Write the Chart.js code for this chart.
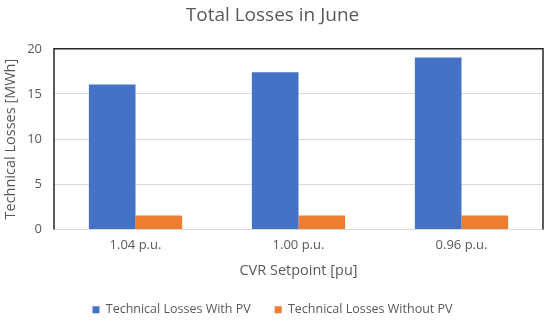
<!DOCTYPE html>
<html>
<head>
<meta charset="utf-8">
<script src="https://cdn.jsdelivr.net/npm/chart.js@4/dist/chart.umd.min.js"></script>
<style>
  html, body { margin: 0; padding: 0; background: #fff; }
  #wrap { width: 550px; height: 326px; position: relative; }
</style>
</head>
<body>
<div id="wrap"><canvas id="c"></canvas></div>
<script>
const categories = ['1.04 p.u.', '1.00 p.u.', '0.96 p.u.'];
const withPV = [16.05, 17.4, 19.05];
const withoutPV = [1.55, 1.55, 1.55];
const yTicks = [0, 5, 10, 15, 20];

const font = "'Open Sans', sans-serif";
const grey = '#595959';

// frame around the plot (left, top, right in dark)
const frame = {
  id: 'frame',
  afterDatasetsDraw(chart) {
    const { ctx, chartArea: a } = chart;
    ctx.save();
    ctx.strokeStyle = '#262626';
    ctx.lineWidth = 1.5;
    ctx.beginPath();
    ctx.moveTo(a.left, a.bottom);
    ctx.lineTo(a.left, a.top);
    ctx.lineTo(a.right, a.top);
    ctx.lineTo(a.right, a.bottom);
    ctx.stroke();
    ctx.restore();
  }
};

new Chart(document.getElementById('c'), {
  type: 'bar',
  data: {
    labels: categories,
    datasets: [
      { label: 'Technical Losses With PV', data: withPV, backgroundColor: '#4472C4' },
      { label: 'Technical Losses Without PV', data: withoutPV, backgroundColor: '#ED7D31' }
    ]
  },
  options: {
    responsive: true,
    maintainAspectRatio: false,
    animation: false,
    datasets: { bar: { categoryPercentage: 0.572, barPercentage: 1 } },
    layout: { padding: { left: 2, right: 7, top: 2, bottom: 0 } },
    plugins: {
      title: {
        display: true,
        text: 'Total Losses in June',
        color: grey,
        font: { family: font, size: 19, weight: 'normal' },
        padding: { top: 2, bottom: 22 }
      },
      legend: {
        position: 'bottom',
        labels: {
          color: grey,
          font: { family: font, size: 12.5 },
          boxWidth: 7,
          boxHeight: 7,
          padding: 24
        }
      },
      tooltip: { enabled: false }
    },
    scales: {
      x: {
        grid: { display: false },
        border: { color: '#d9d9d9' },
        ticks: { color: grey, font: { family: font, size: 13 }, padding: 0 },
        title: {
          display: true,
          text: 'CVR Setpoint [pu]',
          color: grey,
          font: { family: font, size: 14.5 },
          padding: { top: 10, bottom: 0 }
        },
        afterFit(s) { s.height = 50; }
      },
      y: {
        min: 0,
        max: 20,
        afterBuildTicks(s) { s.ticks = yTicks.map(v => ({ value: v })); },
        grid: { color: '#d9d9d9', drawTicks: false },
        border: { display: false },
        ticks: { color: grey, font: { family: font, size: 13 }, padding: 12 },
        title: {
          display: true,
          text: 'Technical Losses [MWh]',
          color: grey,
          font: { family: font, size: 14.5 },
          padding: { top: 0, bottom: 0 }
        },
        afterFit(s) { s.width = 52; }
      }
    }
  },
  plugins: [frame]
});
</script>
</body>
</html>
